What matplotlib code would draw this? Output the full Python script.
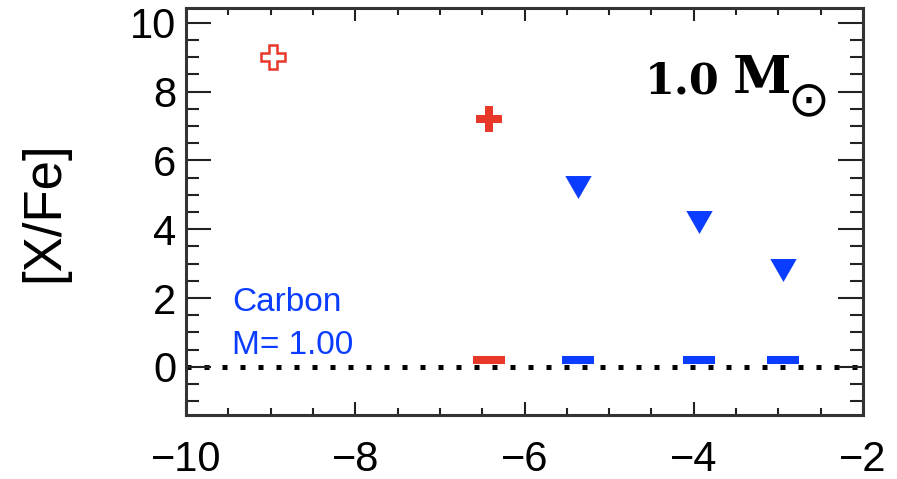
import numpy as np
import matplotlib.pyplot as plt
from matplotlib.ticker import MultipleLocator

plt.rcParams['font.family'] = ['Liberation Sans', 'DejaVu Sans']

# carbon abundance, M = 1.00
red = '#e8382a'
blue = '#0a3dff'

open_x = [-8.97]
open_y = [9.0]
filled_x = [-6.42]
filled_y = [7.19]
tri_x = [-5.37, -3.94, -2.95]
tri_y = [5.22, 4.22, 2.81]
red_dash_x = [-6.42]
red_dash_y = [0.2]
blue_dash_x = [-5.37, -3.94, -2.95]
blue_dash_y = [0.2, 0.2, 0.2]

W, H = 897, 479
fig = plt.figure(figsize=(W / 100, H / 100), dpi=100)
ax = fig.add_axes([186 / W, 64 / H, 677 / W, 407 / H])

# zero line
ax.axhline(0, color='black', lw=3.6, linestyle=(0, (1, 2.6)),
           dash_capstyle='butt', zorder=1)

ax.plot(open_x, open_y, 'P', ms=17.5, mfc='white', mec=red, mew=1.8,
        linestyle='none', zorder=3)
ax.plot(filled_x, filled_y, 'P', ms=19, mfc=red, mec=red, mew=0,
        linestyle='none', zorder=3)
tri = [(-1, 0.87), (1, 0.87), (0, -0.87)]
ax.plot(tri_x, tri_y, marker=tri, ms=19, color=blue, mew=0,
        linestyle='none', zorder=3)
ax.plot(red_dash_x, red_dash_y, '_', ms=23, mew=5.8, color=red,
        linestyle='none', zorder=3)
ax.plot(blue_dash_x, blue_dash_y, '_', ms=23, mew=5.8, color=blue,
        linestyle='none', zorder=3)

ax.set_xlim(-10, -2)
ax.set_ylim(-1.4, 10.43)
ax.xaxis.set_major_locator(MultipleLocator(2))
ax.xaxis.set_minor_locator(MultipleLocator(0.5))
ax.yaxis.set_major_locator(MultipleLocator(2))
ax.yaxis.set_minor_locator(MultipleLocator(0.5))

ax.tick_params(which='both', direction='in', top=True, right=True,
               width=1.5, color='#222222', labelsize=30)
ax.tick_params(axis='y', which='major', length=18, pad=7)
ax.tick_params(axis='y', which='minor', length=9.4)
ax.tick_params(axis='x', which='major', length=9.4, pad=18)
ax.tick_params(axis='x', which='minor', length=5)
for s in ax.spines.values():
    s.set_linewidth(2.2)
    s.set_color('#333333')

ax.set_ylabel('[X/Fe]', fontsize=38, labelpad=44)

ax.text(0.068, 0.255, 'Carbon', transform=ax.transAxes, fontsize=24,
        color=blue, ha='left', va='baseline')
ax.text(0.068, 0.15, 'M= 1.00', transform=ax.transAxes, fontsize=24,
        color=blue, ha='left', va='baseline')

# 1.0 Msun label
fig.text(645 / W, 1 - 93 / H, '1.0', fontsize=31, family='DejaVu Serif',
         weight='bold', ha='left', va='baseline')
fig.text(733 / W, 1 - 93 / H, 'M', fontsize=38, family='DejaVu Serif',
         weight='bold', ha='left', va='baseline')
fig.text(808 / W, 1 - 101 / H, '\u2299', fontsize=36, family='DejaVu Sans',
         ha='center', va='center')

fig.savefig('out.png', dpi=100)
